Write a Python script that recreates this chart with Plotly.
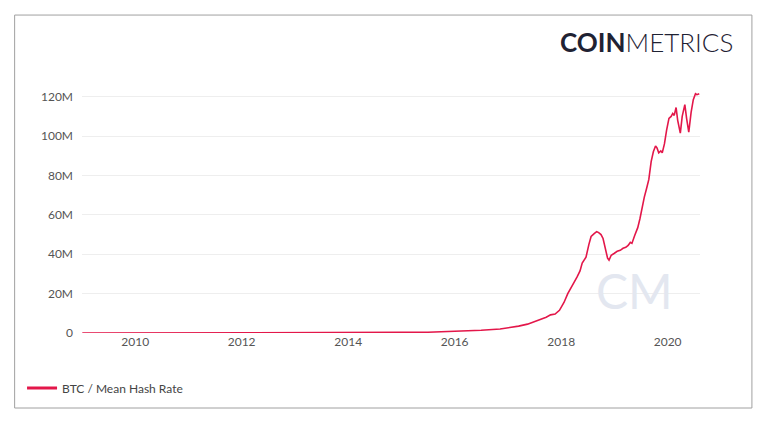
import plotly.graph_objects as go

# BTC mean hash rate (TH/s)
dates = [
    "2009-01-03", "2010-01-01", "2011-01-01", "2012-01-01", "2013-01-01",
    "2013-07-01", "2014-01-01", "2014-07-01", "2015-01-01", "2015-07-01",
    "2016-01-01", "2016-07-01", "2016-11-08", "2017-01-15", "2017-03-15",
    "2017-05-15", "2017-07-01", "2017-08-15", "2017-09-20", "2017-10-20",
    "2017-11-20", "2017-12-20", "2018-01-20", "2018-02-15", "2018-03-10",
    "2018-04-01", "2018-04-20", "2018-05-10", "2018-05-25", "2018-06-10",
    "2018-06-20", "2018-07-10", "2018-07-25", "2018-08-15", "2018-09-01",
    "2018-09-15", "2018-10-01", "2018-10-15", "2018-11-01", "2018-11-15",
    "2018-11-25", "2018-12-10", "2019-01-01", "2019-01-20", "2019-02-10",
    "2019-03-01", "2019-03-20", "2019-04-05", "2019-04-20", "2019-05-01",
    "2019-05-20", "2019-06-10", "2019-06-25", "2019-07-10", "2019-07-25",
    "2019-08-10", "2019-08-25", "2019-09-10", "2019-09-25", "2019-10-10",
    "2019-10-20", "2019-11-01", "2019-11-15", "2019-11-25", "2019-12-10",
    "2019-12-25", "2020-01-10", "2020-01-25", "2020-02-05", "2020-02-15",
    "2020-02-28", "2020-03-10", "2020-03-28", "2020-04-10", "2020-04-28",
    "2020-05-10", "2020-05-25", "2020-06-10", "2020-06-25", "2020-07-10",
    "2020-07-20", "2020-08-05",
]
hash_rate_m = [
    0.0, 0.00001, 0.0001, 0.009, 0.02,
    0.0003, 0.01, 0.13, 0.3, 0.4,
    0.8, 1.4, 2.0, 2.6, 3.5,
    4.5, 5.8, 6.8, 8.0, 9.2,
    9.6, 11.5, 15.5, 20.0, 23.5,
    26.0, 28.5, 31.5, 35.5, 37.0,
    38.5, 45.0, 49.0, 50.5, 51.5,
    51.0, 50.0, 48.0, 42.5, 38.0,
    37.0, 39.5, 40.5, 41.5, 42.0,
    43.0, 43.5, 44.5, 46.0, 45.5,
    49.5, 53.5, 58.0, 64.5, 69.0,
    73.5, 78.0, 87.0, 92.0, 95.0,
    94.0, 91.5, 92.5, 91.5, 96.0,
    103.0, 109.0, 110.0, 111.5, 110.5,
    114.5, 108.0, 101.5, 110.0, 116.0,
    109.0, 102.0, 112.0, 118.5, 121.5,
    121.0, 121.5,
]
hash_rate = [v * 1e6 for v in hash_rate_m]

tick_vals = [0, 20e6, 40e6, 60e6, 80e6, 100e6, 120e6]
tick_text = ["0", "20M", "40M", "60M", "80M", "100M", "120M"]

RED = "#e3174a"

fig = go.Figure()
fig.add_trace(go.Scatter(
    x=dates, y=hash_rate, mode="lines", name="BTC / Mean Hash Rate",
    line=dict(color=RED, width=1.6), showlegend=False,
))
# legend entry only (thicker swatch like the original)
fig.add_trace(go.Scatter(
    x=[None], y=[None], mode="lines", name="BTC / Mean Hash Rate",
    line=dict(color=RED, width=3), showlegend=True,
))

# the page body adds an 8px offset, so the figure is 8px smaller and shifted
fig.update_layout(
    width=760, height=416,
    margin=dict(l=74, r=68, t=69, b=91),
    paper_bgcolor="white", plot_bgcolor="white",
    font=dict(family="Lato", size=12, color="#555555"),
    showlegend=True,
    legend=dict(x=-0.097, y=-0.215, xanchor="left", yanchor="middle",
                orientation="h", font=dict(size=12, color="#444444"),
                bgcolor="rgba(0,0,0,0)"),
    xaxis=dict(
        range=["2009-01-01", "2020-08-10"], type="date",
        tick0="2010-01-01", dtick="M24", tickformat="%Y",
        showgrid=False, zeroline=False, showline=False, ticks="",
        tickfont=dict(size=12, color="#555555"),
    ),
    yaxis=dict(
        range=[0, 130e6], tickvals=tick_vals, ticktext=tick_text,
        showgrid=True, gridcolor="#eeeeee", gridwidth=1,
        zeroline=False, showline=False, ticks="", ticklabelstandoff=8,
        tickfont=dict(size=12, color="#555555"),
    ),
)

# outer frame
fig.add_shape(type="rect", xref="paper", yref="paper",
              x0=-0.109, x1=1.084, y0=-0.293, y1=1.242,
              line=dict(color="#a0a0a0", width=1), layer="below")

# logo
fig.add_annotation(xref="paper", yref="paper", x=1.057, y=1.137,
                   xanchor="right", yanchor="middle", showarrow=False,
                   text="<b>COIN</b>METRICS",
                   font=dict(family="Lato", size=26, color="#1f2233", weight=300))

# watermark
fig.add_annotation(xref="paper", yref="paper", x=0.894, y=0.165,
                   xanchor="center", yanchor="middle", showarrow=False,
                   text="CM",
                   font=dict(family="Lato", size=48, color="#e3e7f0"))

fig.write_html("out.html")
